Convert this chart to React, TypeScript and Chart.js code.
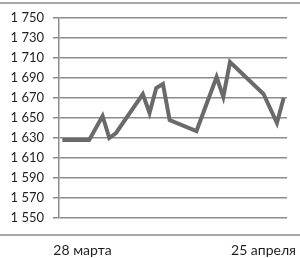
import React, { useEffect, useRef } from "react";
import { Chart, registerables } from "chart.js";

Chart.register(...registerables);

// Trading-day positions on a day axis (one unit = one calendar day)
const days = [26, 30, 32, 33, 34, 38, 39, 40, 41, 42, 46, 49, 50, 51, 56, 58, 59];
const prices = [1628, 1628, 1652, 1630, 1635, 1674, 1655, 1680, 1684, 1648, 1637, 1691, 1671, 1706, 1674, 1645, 1670];
const xTickDays = [29, 56];
const xTickLabels = ["28 марта", "25 апреля"];
const xMin = 25.5;
const xMax = 59.5;
const yMin = 1550;
const yMax = 1750;
const yStep = 20;

const FONT = "Lato, 'Open Sans', sans-serif";

const fmt = (v: number) => {
  const th = Math.floor(v / 1000);
  const rest = String(v % 1000).padStart(3, "0");
  return th > 0 ? `${th}\u00a0${rest}` : String(v);
};

const framePlugin = {
  id: "frameLines",
  beforeDraw(chart: any) {
    const { ctx, width, height } = chart;
    ctx.save();
    ctx.strokeStyle = "#8c8c8c";
    ctx.lineWidth = 1.5;
    ctx.beginPath();
    ctx.moveTo(0, 3);
    ctx.lineTo(width, 3);
    ctx.moveTo(0, height - 23);
    ctx.lineTo(width, height - 23);
    ctx.stroke();
    ctx.restore();
  },
};

export default function App() {
  const ref = useRef<HTMLCanvasElement | null>(null);

  useEffect(() => {
    if (!ref.current) return;
    const chart = new Chart(ref.current, {
      type: "line",
      data: {
        datasets: [
          {
            data: days.map((d, i) => ({ x: d, y: prices[i] })),
            borderColor: "#6a6a6a",
            borderWidth: 4,
            pointRadius: 0,
            tension: 0,
            fill: false,
            borderJoinStyle: "miter",
          },
        ],
      },
      options: {
        animation: false,
        responsive: false,
        maintainAspectRatio: false,
        layout: { padding: { top: 18, right: 13, left: 0, bottom: 0 } },
        plugins: { legend: { display: false }, tooltip: { enabled: false } },
        scales: {
          x: {
            type: "linear",
            min: xMin,
            max: xMax,
            grid: { display: false, drawTicks: false },
            border: { display: false },
            afterBuildTicks: (scale: any) => {
              scale.ticks = xTickDays.map((v) => ({ value: v }));
            },
            afterFit: (scale: any) => {
              scale.height = 40;
              scale.paddingLeft = 0;
              scale.paddingRight = 0;
            },
            ticks: {
              autoSkip: false,
              maxRotation: 0,
              padding: 24,
              color: "#1f1f1f",
              font: { family: FONT, size: 14 },
              callback: (v: any) => {
                const i = xTickDays.indexOf(Number(v));
                return i >= 0 ? xTickLabels[i] : "";
              },
            },
          },
          y: {
            min: yMin,
            max: yMax,
            afterFit: (scale: any) => {
              scale.width = 59;
            },
            grid: { color: "#8c8c8c", lineWidth: 1.5, tickLength: 6 },
            border: { display: true, color: "#8c8c8c", width: 1.5 },
            ticks: {
              stepSize: yStep,
              padding: 9,
              color: "#1f1f1f",
              font: { family: FONT, size: 13 },
              callback: (v: any) => fmt(Number(v)),
            },
          },
        },
      },
      plugins: [framePlugin],
    });
    return () => chart.destroy();
  }, []);

  return (
    <div style={{ position: "fixed", left: 0, top: 0, width: 300, height: 258, background: "#fff" }}>
      <canvas ref={ref} width={300} height={258} style={{ width: 300, height: 258, display: "block" }} />
    </div>
  );
}
